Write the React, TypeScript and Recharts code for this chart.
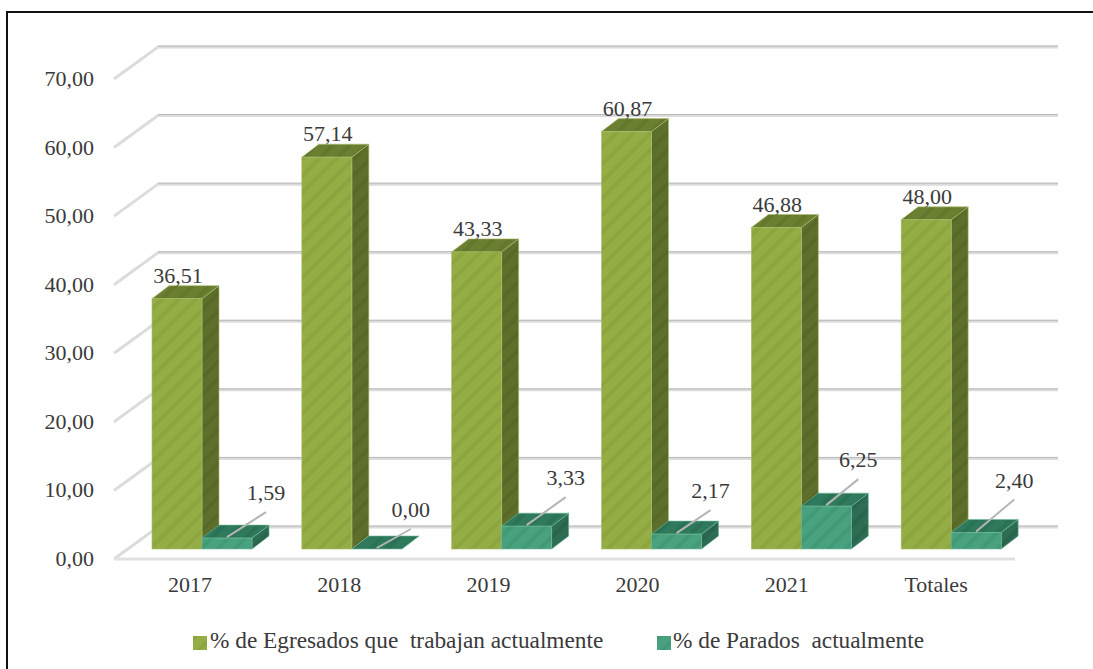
import { BarChart, Bar, XAxis, YAxis, CartesianGrid, LabelList, Legend } from 'recharts';

const categories = ['2017', '2018', '2019', '2020', '2021', 'Totales'];
const egresados = [36.51, 57.14, 43.33, 60.87, 46.88, 48.0];
const parados = [1.59, 0.0, 3.33, 2.17, 6.25, 2.4];
const yTicks = [0, 10, 20, 30, 40, 50, 60, 70];
const egresadosName = '% de Egresados que  trabajan actualmente';
const paradosName = '% de Parados  actualmente';

// where each leader line of the second series ends, relative to the top of its bar
const leaderEnds = [
  [39, -26],
  [34, -20],
  [39, -29],
  [34, -24],
  [32, -27],
  [38, -33],
];

const chartData = categories.map((name, i) => ({ name, egresados: egresados[i], parados: parados[i] }));

const FONT = '"Liberation Serif", serif';
const TEXT = '#3a3a3a';
const DEPTH_X = 17;
const DEPTH_Y = 13;

const fmt = (v: number) => v.toFixed(2).replace('.', ',');

const makeBar = (front: string, top: string, side: string, edge: string) => (props: any) => {
  const { x, y, width, height } = props;
  const right = x + width;
  const bottom = y + height;
  return (
    <g>
      <polygon
        points={`${right},${y} ${right + DEPTH_X},${y - DEPTH_Y} ${right + DEPTH_X},${bottom - DEPTH_Y} ${right},${bottom}`}
        fill={side}
        stroke={edge}
        strokeWidth={0.6}
      />
      <polygon
        points={`${x},${y} ${x + DEPTH_X},${y - DEPTH_Y} ${right + DEPTH_X},${y - DEPTH_Y} ${right},${y}`}
        fill={top}
        stroke={edge}
        strokeWidth={0.6}
      />
      {height > 0 && <rect x={x} y={y} width={width} height={height} fill={front} stroke={edge} strokeWidth={0.6} />}
    </g>
  );
};

const GreenBar = makeBar('url(#greenFront)', 'url(#greenTop)', 'url(#greenSide)', '#a9bd6d');
const TealBar = makeBar('url(#tealFront)', 'url(#tealTop)', 'url(#tealSide)', '#6fb89a');

const GridLine = (props: any) => {
  const { x1, x2, y1 } = props;
  const frontY = y1 + 10;
  const backY = y1 - 22;
  const isFloor = props.index === 0;
  return (
    <g fill="none">
      <polyline
        points={`${x1 - 13},${frontY} ${x1 + 31},${backY} ${x2 + 32},${backY}`}
        stroke="#dcdcdc"
        strokeWidth={3}
      />
      <line x1={x1 + 31} x2={x2 + 32} y1={backY - 1} y2={backY - 1} stroke="#b9b9b9" strokeWidth={1} />
      {isFloor && <line x1={x1 - 13} x2={x2 - 11} y1={frontY} y2={frontY} stroke="#e0e0e0" strokeWidth={3} />}
    </g>
  );
};

const YTick = ({ x, y, payload }: any) => (
  <text x={x - 27} y={y + 17} textAnchor="end" fontFamily={FONT} fontSize={22} fill={TEXT}>
    {fmt(payload.value)}
  </text>
);

const XTick = ({ x, y, payload, index }: any) => (
  <text x={x - 12 - index * 0.6} y={y + 35} textAnchor="middle" fontFamily={FONT} fontSize={22} fill={TEXT}>
    {payload.value}
  </text>
);

const EgresadosLabel = ({ x, y, width, value }: any) => (
  <text x={x + width / 2 + 1} y={y - 16} textAnchor="middle" fontFamily={FONT} fontSize={22} fill={TEXT}>
    {fmt(value)}
  </text>
);

const ParadosLabel = ({ x, y, width, value, index }: any) => {
  const cx = x + width / 2;
  const [dx, dy] = leaderEnds[index];
  return (
    <g>
      <line x1={cx} y1={y - 1} x2={cx + dx} y2={y + dy} stroke="#b5b5b5" strokeWidth={2} />
      <text x={cx + dx} y={y + dy - 12} textAnchor="middle" fontFamily={FONT} fontSize={22} fill={TEXT}>
        {fmt(value)}
      </text>
    </g>
  );
};

const LegendContent = () => (
  <div style={{ position: 'relative', height: 30, fontFamily: FONT, fontSize: 23.3, color: TEXT, whiteSpace: 'pre' }}>
    <svg width={14} height={14} style={{ position: 'absolute', left: 193, top: 11 }}>
      <rect width={14} height={14} fill="url(#greenFront)" />
    </svg>
    <span style={{ position: 'absolute', left: 210, top: 2 }}>{egresadosName}</span>
    <svg width={14} height={14} style={{ position: 'absolute', left: 657, top: 11 }}>
      <rect width={14} height={14} fill="url(#tealFront)" />
    </svg>
    <span style={{ position: 'absolute', left: 673, top: 2 }}>{paradosName}</span>
  </div>
);

const hatch = (id: string, base: string, stripe: string) => (
  <pattern id={id} width={12} height={12} patternUnits="userSpaceOnUse" patternTransform="rotate(45)">
    <rect width={12} height={12} fill={base} />
    <rect width={4} height={12} fill={stripe} />
  </pattern>
);

export default function App() {
  return (
    <div style={{ position: 'absolute', left: 0, top: 0, width: 1093, height: 669, background: '#fff', overflow: 'hidden' }}>
      <div style={{ position: 'absolute', left: 6, top: 11, width: 1087, height: 658, borderTop: '2px solid #111', borderLeft: '2px solid #111' }} />
      <BarChart
        width={1093}
        height={669}
        data={chartData}
        margin={{ top: 69, right: 67, bottom: 60, left: 126 }}
        barCategoryGap={25}
        barGap={0}
        style={{ position: 'absolute', left: 0, top: 0 }}
      >
        <defs>
          {hatch('greenFront', '#94ad45', '#8ca53e')}
          {hatch('greenTop', '#6b7f30', '#64772c')}
          {hatch('greenSide', '#5e6f2b', '#586827')}
          {hatch('tealFront', '#49a27f', '#439976')}
          {hatch('tealTop', '#2f7a5c', '#2b7255')}
          {hatch('tealSide', '#2c6d53', '#28654c')}
        </defs>
        <CartesianGrid vertical={false} horizontal={GridLine} stroke="none" />
        <XAxis dataKey="name" axisLine={false} tickLine={false} tick={<XTick />} interval={0} />
        <YAxis width={1} domain={[0, 70]} ticks={yTicks} axisLine={false} tickLine={false} tick={<YTick />} interval={0} tickMargin={0} mirror={false} />
        <Bar dataKey="egresados" name={egresadosName} shape={GreenBar} isAnimationActive={false}>
          <LabelList dataKey="egresados" content={<EgresadosLabel />} />
        </Bar>
        <Bar dataKey="parados" name={paradosName} shape={TealBar} isAnimationActive={false}>
          <LabelList dataKey="parados" content={<ParadosLabel />} />
        </Bar>
        <Legend content={<LegendContent />} wrapperStyle={{ left: 0, top: 625, width: 1093 }} />
      </BarChart>
    </div>
  );
}
